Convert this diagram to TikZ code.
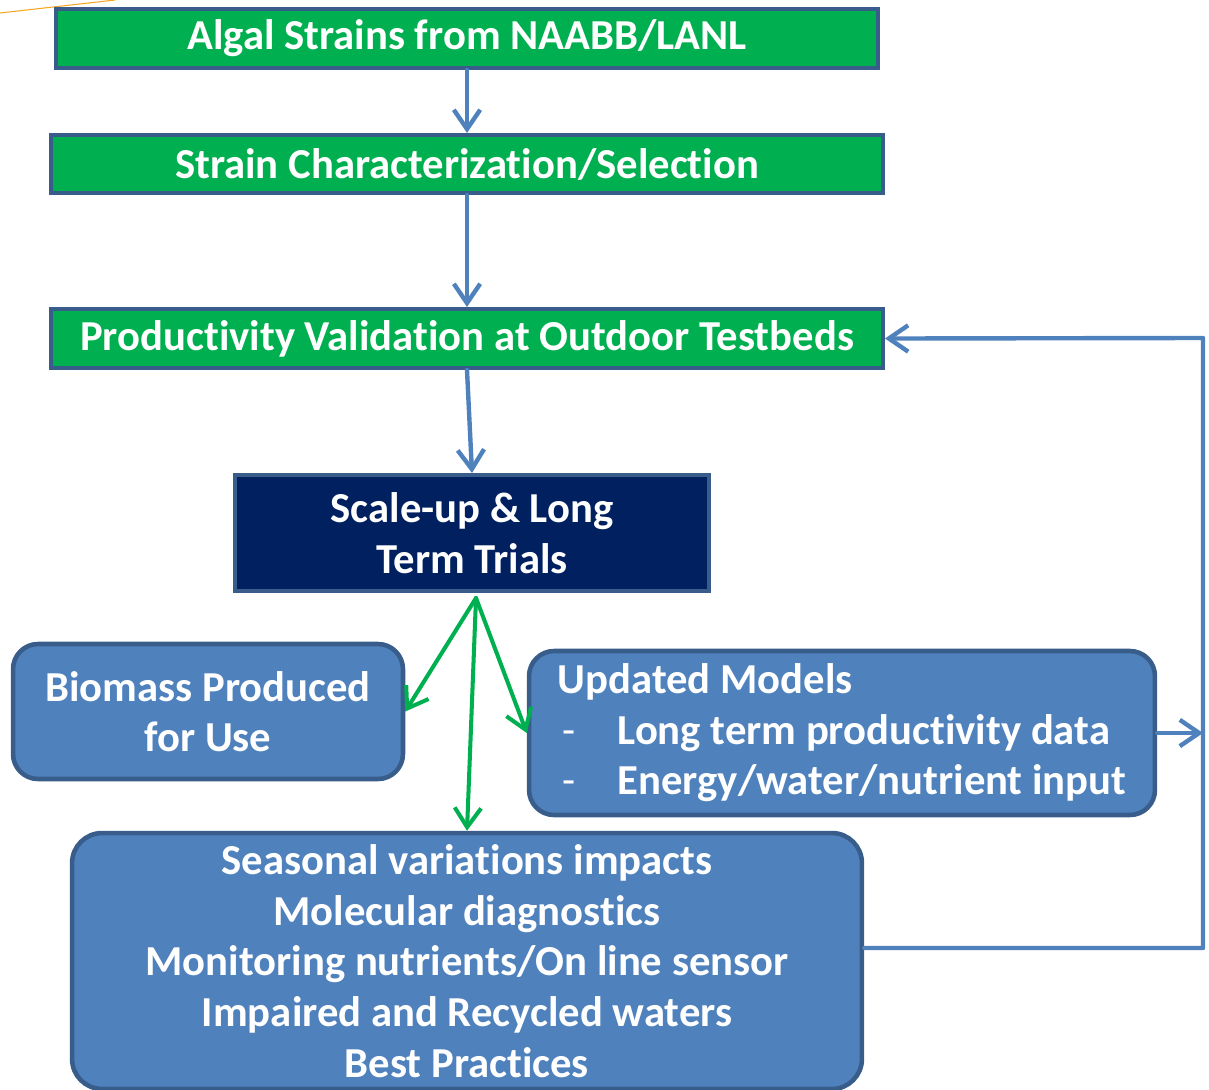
\documentclass[tikz,border=0pt]{standalone}
\usepackage{fontspec}
\setmainfont{Carlito}[Ligatures=NoCommon]
\usetikzlibrary{arrows.meta}

\definecolor{boxgreen}{RGB}{0,176,80}
\definecolor{boxnavy}{RGB}{0,32,96}
\definecolor{boxblue}{RGB}{79,129,189}
\definecolor{edgeblue}{RGB}{56,93,138}
\definecolor{lineorange}{RGB}{245,166,35}

\begin{document}
\begin{tikzpicture}[x=0.02cm,y=-0.02cm,
  every node/.style={font=\fontsize{24.3}{28.8}\selectfont\bfseries, text=white, align=center, inner sep=0pt},
  greenbox/.style={draw=edgeblue, line width=2.3pt, fill=boxgreen},
  navybox/.style={draw=edgeblue, line width=2.3pt, fill=boxnavy},
  bluebox/.style={draw=edgeblue, line width=2.6pt, fill=boxblue, rounded corners=0.5cm},
  flow/.style={draw=boxblue, line width=2.5pt, line cap=round, line join=round,
    -{Straight Barb[length=11pt,width=15pt]}},
  branch/.style={draw=boxgreen, line width=2.3pt, line cap=round,
    -{Straight Barb[length=11pt,width=15pt]}}
]
\useasboundingbox (0,0) rectangle (1209,1089);
\clip (0,0) rectangle (1209,1089);

\draw[lineorange, line width=0.6pt] (0,13) -- (115,0);

% boxes
\node[greenbox, minimum width=16.44cm, minimum height=1.18cm] (algal) at (467,38.5) {Algal Strains from NAABB/LANL};
\node[greenbox, minimum width=16.64cm, minimum height=1.16cm] (strain) at (467,164) {Strain Characterization/Selection};
\node[greenbox, minimum width=16.64cm, minimum height=1.18cm] (prod) at (467,338.5) {Productivity Validation at Outdoor Testbeds};
\node[navybox, minimum width=9.48cm, minimum height=2.32cm] (scale) at (472,533) {Scale-up \& Long\\Term Trials};
\node[bluebox, minimum width=7.8cm, minimum height=2.7cm] (biomass) at (208,711.5) {Biomass Produced\\for Use};
\node[bluebox, minimum width=12.52cm, minimum height=3.28cm, align=left] (models) at (842,733)
  {Updated Models\\\makebox[1.2cm][l]{\hspace{3pt}\mdseries -}Long term productivity data\\\makebox[1.2cm][l]{\hspace{3pt}\mdseries -}Energy/water/nutrient input};
\node[bluebox, rounded corners=0.6cm, minimum width=15.8cm, minimum height=5.12cm] (seasonal) at (467,961)
  {Seasonal variations impacts\\Molecular diagnostics\\Monitoring nutrients/On line sensor\\Impaired and Recycled waters\\Best Practices};

% main flow
\draw[flow] (algal) -- (strain);
\draw[flow] (strain) -- (prod);
\draw[flow] (prod.south) -- (scale.north);

% branches
\coordinate (fork) at (476,598);
\draw[branch] (fork) -- (biomass.east);
\draw[branch] (fork) -- (models.west);
\draw[branch] (fork) -- (seasonal.north);

% feedback loop
\coordinate (railtop) at (1203,338);
\coordinate (railbot) at (1203,948);
\draw[flow] (models.east) -- (models.east -| railtop);
\draw[flow] (railbot -| seasonal.east) -- (railbot) -- (railtop) -- (prod.east);

\end{tikzpicture}
\end{document}
